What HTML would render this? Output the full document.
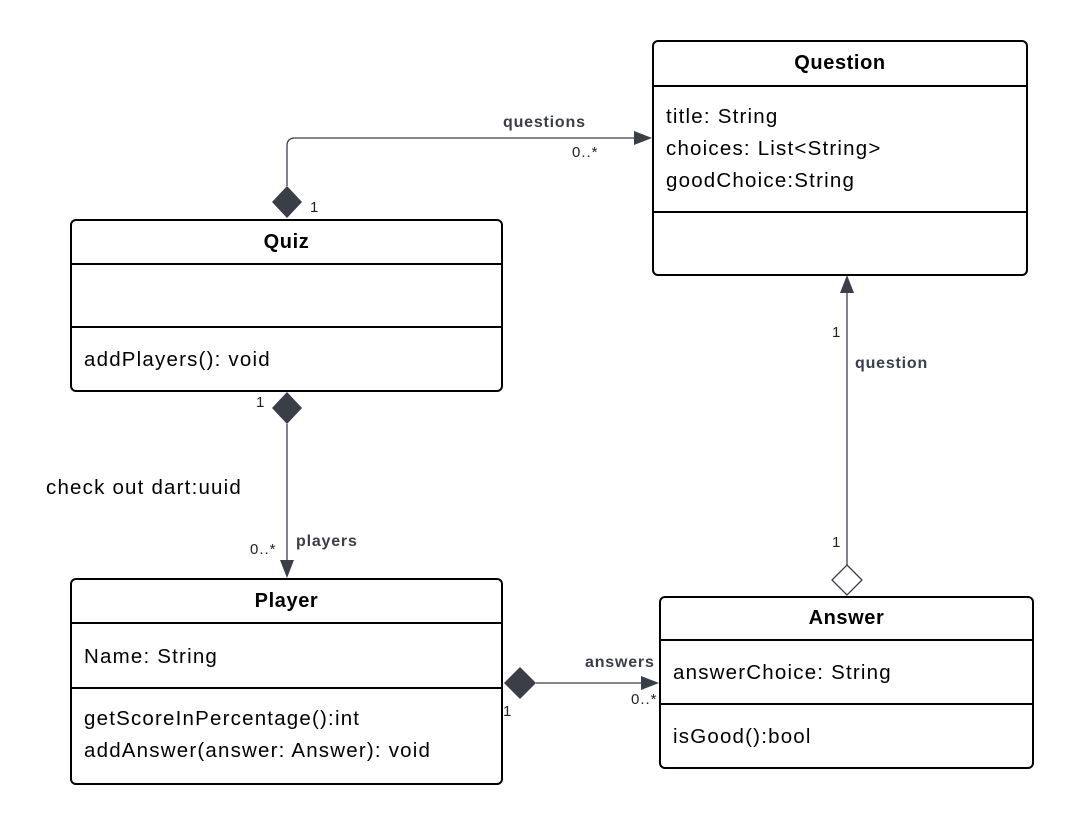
<!DOCTYPE html><html><head><style>
body{margin:0;background:#fff;width:1074px;height:824px;overflow:hidden;position:relative;font-family:"Liberation Sans",sans-serif}
.b{position:absolute;border:2px solid #000;border-radius:6px;box-sizing:border-box;background:#fff}
.h{font-weight:bold;font-size:20px;letter-spacing:0.6px;text-align:center;border-bottom:2px solid #000;box-sizing:border-box}
.s{box-sizing:border-box;font-size:20.5px;letter-spacing:1.2px;padding-left:12px;white-space:nowrap}
.t{position:absolute;font-size:15px;letter-spacing:1px;color:#222}
.l{position:absolute;font-size:16px;letter-spacing:0.8px;font-weight:bold;color:#3a3f47}
</style></head><body>
<svg width="1074" height="824" style="position:absolute;left:0;top:0">
<g stroke="#3a3f47" stroke-width="1.3" fill="none">
<path d="M287 186 V146 Q287 138 295 138 H640"/>
<path d="M287 424 V566"/>
<path d="M536 683 H647"/>
<path d="M847 565 V287"/>
</g>
<g fill="#3a3f47">
<polygon points="652,138 634,131 634,145"/>
<polygon points="287,578 280,560 294,560"/>
<polygon points="659,683 641,676 641,690"/>
<polygon points="847,275 840,293 854,293"/>
<polygon points="287,186 302,202 287,218 272,202"/>
<polygon points="287,392 302,408 287,424 272,408"/>
<polygon points="520,667 536,683 520,699 504,683"/>
</g>
<polygon points="847,565 862,580 847,595 832,580" fill="#fff" stroke="#3a3f47" stroke-width="1.3"/>
</svg>
<div class="b" style="left:652px;top:40px;width:376px;height:236px">
<div class="h" style="height:45px;line-height:43px">Question</div>
<div class="s" style="height:126px;border-bottom:2px solid #000;padding-top:14px;line-height:32px">title: String<br>choices: List&lt;String&gt;<br>goodChoice:String</div>
</div>
<div class="b" style="left:70px;top:219px;width:433px;height:173px">
<div class="h" style="height:44px;line-height:42px">Quiz</div>
<div class="s" style="height:63px;border-bottom:2px solid #000"></div>
<div class="s" style="line-height:64px">addPlayers(): void</div>
</div>
<div class="b" style="left:70px;top:578px;width:433px;height:207px">
<div class="h" style="height:44px;line-height:42px">Player</div>
<div class="s" style="height:65px;border-bottom:2px solid #000;line-height:66px">Name: String</div>
<div class="s" style="padding-top:14px;line-height:32px">getScoreInPercentage():int<br>addAnswer(answer: Answer): void</div>
</div>
<div class="b" style="left:659px;top:596px;width:375px;height:173px">
<div class="h" style="height:43px;line-height:41px">Answer</div>
<div class="s" style="height:64px;border-bottom:2px solid #000;line-height:64px">answerChoice: String</div>
<div class="s" style="line-height:64px">isGood():bool</div>
</div>
<div class="l" style="left:503px;top:114px">questions</div>
<div class="t" style="left:572px;top:144px">0..*</div>
<div class="t" style="left:310px;top:199px">1</div>
<div class="t" style="left:256px;top:394px">1</div>
<div class="t" style="left:250px;top:541px">0..*</div>
<div class="l" style="left:296px;top:533px">players</div>
<div style="position:absolute;left:46px;top:476px;font-size:20.5px;letter-spacing:1.2px">check out dart:uuid</div>
<div class="l" style="left:585px;top:654px">answers</div>
<div class="t" style="left:631px;top:691px">0..*</div>
<div class="t" style="left:503px;top:703px">1</div>
<div class="t" style="left:832px;top:324px">1</div>
<div class="l" style="left:855px;top:355px">question</div>
<div class="t" style="left:832px;top:534px">1</div>
</body></html>
